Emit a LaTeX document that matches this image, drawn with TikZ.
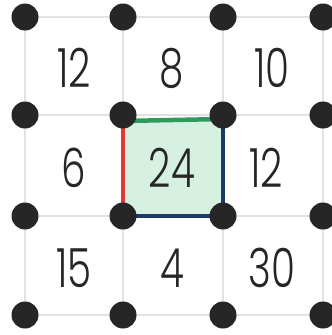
\documentclass[tikz,border=0pt]{standalone}
\usepackage{fontspec}
\setmainfont{Poppins}[UprightFont=* Light, FakeStretch=0.72]
\usepackage{xcolor}
\usepackage{tikz}
\usetikzlibrary{calc}
\definecolor{gridline}{HTML}{E2E2E2}
\definecolor{pegdot}{HTML}{262626}
\definecolor{areafill}{HTML}{D6F1E1}
\definecolor{sideTop}{HTML}{2E9A5E}
\definecolor{sideLeft}{HTML}{E23A34}
\definecolor{sideBlue}{HTML}{1B3A66}

\tikzset{
  peg/.style={circle, fill=pegdot, inner sep=0pt, minimum size=27pt},
  grid/.style={draw=gridline, line width=2.2pt},
  side/.style={line width=4.5pt, line cap=round},
  cellnum/.style={font=\fontsize{54}{54}\selectfont, text=black!85}
}

\begin{document}
\begin{tikzpicture}[x=1pt, y=1pt]
  \useasboundingbox (0,0) rectangle (332,-335);

  % peg positions
  \coordinate (a1) at (25,-17);  \coordinate (b1) at (123,-17);  \coordinate (c1) at (223,-17);  \coordinate (d1) at (323,-17);
  \coordinate (a2) at (25,-115); \coordinate (b2) at (123,-115); \coordinate (c2) at (223,-115); \coordinate (d2) at (323,-115);
  \coordinate (a3) at (25,-216); \coordinate (b3) at (123,-216); \coordinate (c3) at (223,-216); \coordinate (d3) at (323,-216);
  \coordinate (a4) at (25,-315); \coordinate (b4) at (123,-315); \coordinate (c4) at (223,-315); \coordinate (d4) at (323,-315);

  % light grid
  \draw[grid] (a1) -- (d1);
  \draw[grid] (a2) -- (d2);
  \draw[grid] (a3) -- (d3);
  \draw[grid] (a4) -- (d4);
  \draw[grid] (a1) -- (a4);
  \draw[grid] (b1) -- (b4);
  \draw[grid] (c1) -- (c4);
  \draw[grid] (d1) -- (d4);

  % the shaded square
  \fill[areafill] ($(b2)+(0,-6)$) rectangle (c3);
  \draw[side, sideTop] ($(b2)+(0,-6)$) -- ($(c2)+(0,-4)$);
  \draw[side, sideLeft] ($(b2)+(0,-6)$) -- (b3);
  \draw[side, sideBlue] ($(c2)+(0,-4)$) -- (c3) -- (b3);

  % pegs
  \node[peg] (pa1) at (a1) {}; \node[peg] (pb1) at (b1) {}; \node[peg] (pc1) at (c1) {}; \node[peg] (pd1) at (d1) {};
  \node[peg] (pa2) at (a2) {}; \node[peg] (pb2) at (b2) {}; \node[peg] (pc2) at (c2) {}; \node[peg] (pd2) at (d2) {};
  \node[peg] (pa3) at (a3) {}; \node[peg] (pb3) at (b3) {}; \node[peg] (pc3) at (c3) {}; \node[peg] (pd3) at (d3) {};
  \node[peg] (pa4) at (a4) {}; \node[peg] (pb4) at (b4) {}; \node[peg] (pc4) at (c4) {}; \node[peg] (pd4) at (d4) {};

  % numbers in the cells
  \node[cellnum] (n11) at (74,-68) {12};
  \node[cellnum] (n12) at (172,-68) {8};
  \node[cellnum] (n13) at (272,-68) {10};
  \node[cellnum] (n21) at (74,-168) {6};
  \node[cellnum] (n22) at (172,-168) {24};
  \node[cellnum] (n23) at (266,-168) {12};
  \node[cellnum] (n31) at (74,-268) {15};
  \node[cellnum] (n32) at (172,-268) {4};
  \node[cellnum] (n33) at (272,-268) {30};
\end{tikzpicture}
\end{document}
